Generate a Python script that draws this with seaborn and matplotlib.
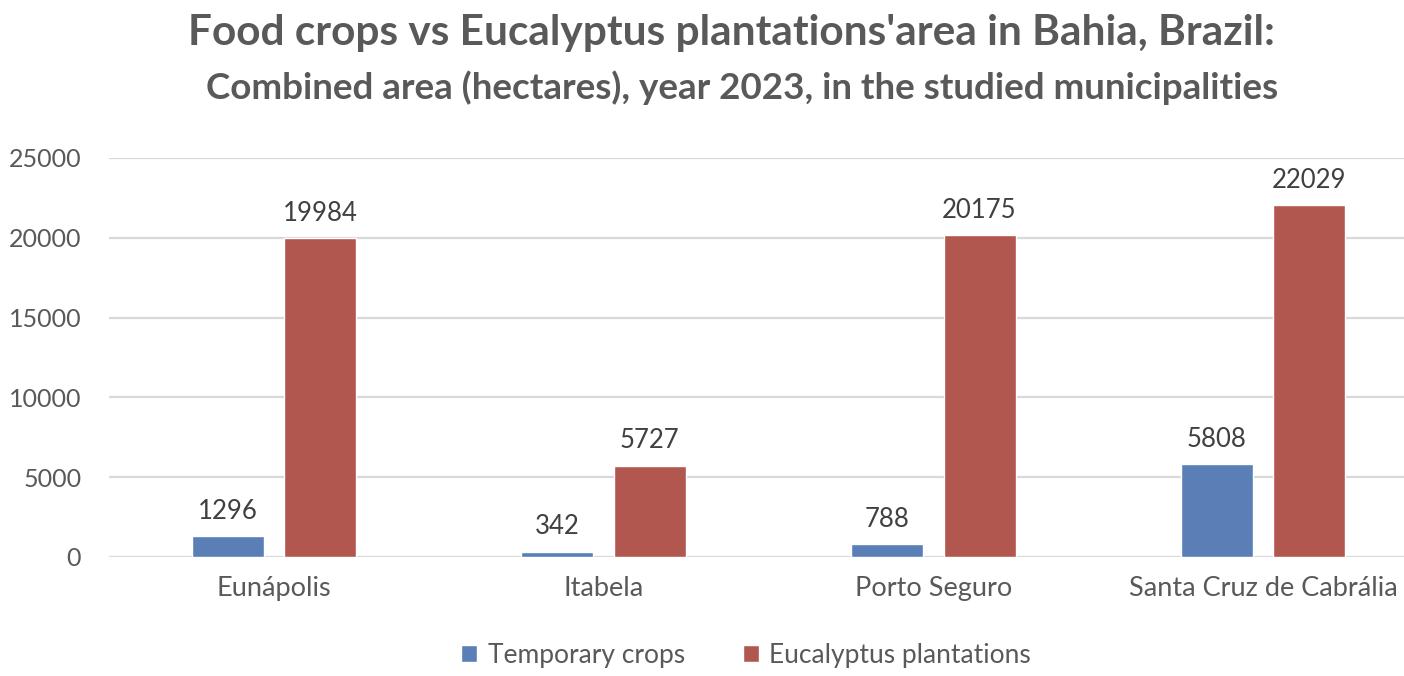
import matplotlib.pyplot as plt
import pandas as pd
import seaborn as sns

# Chart values
municipalities = ["Eunápolis", "Itabela", "Porto Seguro", "Santa Cruz de Cabrália"]
temporary_crops = [1296, 342, 788, 5808]
eucalyptus = [19984, 5727, 20175, 22029]
series_names = ["Temporary crops", "Eucalyptus plantations"]
y_ticks = [0, 5000, 10000, 15000, 20000, 25000]

# Long-form table for seaborn
data = pd.DataFrame(
    {
        "Municipality": municipalities * 2,
        "Area": temporary_crops + eucalyptus,
        "Series": [series_names[0]] * 4 + [series_names[1]] * 4,
    }
)

sns.set_theme(style="white")
plt.rcParams["font.family"] = ["Lato", "DejaVu Sans"]

fig = plt.figure(figsize=(14.04, 6.76), dpi=100)
# axes placed in pixels of the reference: left 109, top 158, bottom 557, right ~1428
ax = fig.add_axes([109 / 1404, (676 - 557) / 676, (1428 - 109) / 1404, (557 - 158) / 676])

sns.barplot(
    data=data,
    x="Municipality",
    y="Area",
    hue="Series",
    palette=["#5A7FB6", "#B25650"],
    width=0.56,
    gap=0.22,
    saturation=1,
    legend=True,
    ax=ax,
)

# value labels above each bar
for container in ax.containers:
    ax.bar_label(container, fmt="%d", padding=9, fontsize=18.5, color="#404040")

ax.set_ylim(0, 25000)
ax.set_xlim(-0.5, 3.5)
ax.set_yticks(y_ticks)
ax.yaxis.grid(True, color="#D9D9D9", linewidth=1.6)
ax.set_axisbelow(True)
for spine in ax.spines.values():
    spine.set_visible(False)
ax.tick_params(axis="y", length=0, pad=20, labelsize=18, labelcolor="#595959")
ax.tick_params(axis="x", length=0, pad=14, labelsize=19.5, labelcolor="#595959")
ax.set_xlabel("")
ax.set_ylabel("")

# legend at the bottom centre
handles, labels = ax.get_legend_handles_labels()
ax.legend_.remove()
fig.legend(
    handles,
    labels,
    loc="center",
    bbox_to_anchor=(746 / 1404, 1 - 655 / 676),
    ncol=2,
    frameon=False,
    fontsize=19,
    labelcolor="#595959",
    handlelength=0.6,
    handleheight=0.6,
    handletextpad=0.4,
    columnspacing=2.2,
)

fig.text(
    731 / 1404,
    1 - 33 / 676,
    "Food crops vs Eucalyptus plantations'area in Bahia, Brazil:",
    ha="center",
    va="center",
    fontsize=30.5,
    fontweight="bold",
    color="#595959",
)
fig.text(
    742 / 1404,
    1 - 88 / 676,
    "Combined area (hectares), year 2023, in the studied municipalities",
    ha="center",
    va="center",
    fontsize=26.5,
    fontweight="bold",
    color="#595959",
)

fig.savefig("out.png", dpi=100)
